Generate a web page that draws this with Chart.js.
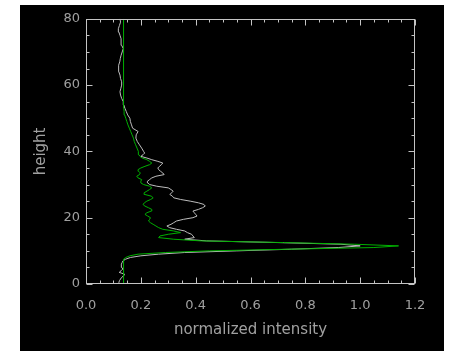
<!DOCTYPE html>
<html>
<head>
<meta charset="utf-8">
<script src="https://cdn.jsdelivr.net/npm/chart.js@4.4.0/dist/chart.umd.min.js"></script>
<style>
  html, body { margin: 0; padding: 0; background: #fff; width: 451px; height: 351px; overflow: hidden; }
  #panel { position: absolute; left: 20px; top: 5px; width: 424px; height: 346px; background: #000; }
</style>
</head>
<body>
<div id="panel"><canvas id="c"></canvas></div>
<script>
// Height samples (shared by both profiles)
const heights = [
  0, 0.5, 1, 1.5, 2, 2.5, 3, 3.5, 4, 4.5, 5, 5.5, 6, 6.5, 7, 7.5, 8, 8.5, 9, 9.5,
  10, 10.5, 11, 11.5, 12, 12.5, 13, 13.5, 14, 14.5, 15, 15.5, 16, 16.5, 17, 17.5, 18, 18.5, 19, 19.5,
  20, 20.5, 21, 21.5, 22, 22.5, 23, 23.5, 24, 24.5, 25, 25.5, 26, 26.5, 27, 27.5, 28, 28.5, 29, 29.5,
  30, 30.5, 31, 31.5, 32, 32.5, 33, 33.5, 34, 34.5, 35, 35.5, 36, 36.5, 37, 37.5, 38, 38.5, 39, 39.5,
  40, 41, 42, 43, 44, 45, 46, 47, 48, 49, 50, 51, 52, 53, 54, 55, 56, 57, 58, 59,
  60, 61, 62, 63, 64, 65, 66, 67, 68, 69, 70, 71, 72, 73, 74, 75, 76, 77, 78, 79, 80
];

// Measured normalized intensity (white)
const observed = [
  0.122, 0.120, 0.122, 0.126, 0.130, 0.138, 0.140, 0.121, 0.128, 0.134, 0.131, 0.128, 0.130, 0.132, 0.135, 0.145, 0.162, 0.200, 0.265, 0.360,
  0.550, 0.750, 0.920, 1.000, 0.930, 0.700, 0.440, 0.360, 0.395, 0.390, 0.385, 0.370, 0.360, 0.330, 0.305, 0.295, 0.310, 0.320, 0.330, 0.355,
  0.390, 0.405, 0.400, 0.395, 0.390, 0.410, 0.425, 0.435, 0.430, 0.410, 0.380, 0.345, 0.320, 0.315, 0.306, 0.312, 0.318, 0.310, 0.300, 0.258,
  0.232, 0.226, 0.224, 0.232, 0.240, 0.255, 0.285, 0.280, 0.272, 0.265, 0.262, 0.268, 0.275, 0.280, 0.262, 0.240, 0.222, 0.200, 0.208, 0.214,
  0.210, 0.203, 0.195, 0.187, 0.182, 0.183, 0.190, 0.170, 0.166, 0.162, 0.160, 0.152, 0.147, 0.142, 0.138, 0.136, 0.130, 0.126, 0.124, 0.127,
  0.130, 0.130, 0.126, 0.124, 0.120, 0.118, 0.120, 0.123, 0.125, 0.128, 0.132, 0.136, 0.130, 0.128, 0.128, 0.124, 0.120, 0.118, 0.122, 0.126, 0.124
];

// Modelled normalized intensity (green)
const modelled = [
  0.137, 0.137, 0.137, 0.137, 0.137, 0.137, 0.137, 0.137, 0.137, 0.137, 0.137, 0.137, 0.137, 0.137, 0.137, 0.138, 0.145, 0.160, 0.190, 0.290,
  0.450, 0.740, 1.050, 1.140, 0.980, 0.720, 0.420, 0.320, 0.265, 0.270, 0.300, 0.345, 0.320, 0.280, 0.265, 0.255, 0.245, 0.235, 0.228, 0.232,
  0.235, 0.225, 0.215, 0.222, 0.238, 0.240, 0.228, 0.215, 0.208, 0.213, 0.222, 0.236, 0.245, 0.238, 0.215, 0.212, 0.222, 0.232, 0.240, 0.232,
  0.210, 0.200, 0.200, 0.203, 0.190, 0.185, 0.195, 0.198, 0.192, 0.190, 0.200, 0.215, 0.232, 0.240, 0.232, 0.222, 0.205, 0.197, 0.193, 0.192,
  0.190, 0.186, 0.181, 0.176, 0.173, 0.168, 0.163, 0.158, 0.153, 0.149, 0.145, 0.141, 0.139, 0.138, 0.137, 0.137, 0.137, 0.137, 0.137, 0.137,
  0.137, 0.137, 0.137, 0.137, 0.137, 0.137, 0.137, 0.137, 0.137, 0.137, 0.137, 0.137, 0.137, 0.137, 0.137, 0.137, 0.137, 0.137, 0.137, 0.137, 0.137
];

const xTicks = [0.0, 0.2, 0.4, 0.6, 0.8, 1.0, 1.2];
const yTicks = [0, 20, 40, 60, 80];

const AXIS_COLOR = '#c4c4c4';
const TEXT_COLOR = '#a0a0a0';

function toPoints(values) {
  return values.map((v, i) => ({ x: v, y: heights[i] }));
}

// Closed box with inward major/minor tick marks on all four sides
const framePlugin = {
  id: 'frame',
  afterDatasetsDraw(chart) {
    const { ctx, chartArea: a, scales: { x, y } } = chart;
    const L = Math.round(a.left) + 0.5, R = Math.round(a.right) - 0.5;
    const T = Math.round(a.top) + 0.5, B = Math.round(a.bottom) - 0.5;
    ctx.save();
    ctx.strokeStyle = AXIS_COLOR;
    ctx.lineWidth = 1;
    ctx.strokeRect(L, T, R - L, B - T);
    ctx.beginPath();
    for (let i = 0; i <= 24; i++) {
      const px = Math.round(x.getPixelForValue(x.min + i * 0.05)) + 0.5;
      const len = i % 4 === 0 ? 6 : 3;
      ctx.moveTo(px, B); ctx.lineTo(px, B - len);
      ctx.moveTo(px, T); ctx.lineTo(px, T + len);
    }
    for (let i = 0; i <= 16; i++) {
      const py = Math.round(y.getPixelForValue(y.min + i * 5)) + 0.5;
      const len = i % 4 === 0 ? 6 : 3;
      ctx.moveTo(L, py); ctx.lineTo(L + len, py);
      ctx.moveTo(R, py); ctx.lineTo(R - len, py);
    }
    ctx.stroke();
    ctx.restore();
  }
};

new Chart(document.getElementById('c'), {
  type: 'scatter',
  data: {
    datasets: [
      {
        label: 'model',
        data: toPoints(modelled),
        showLine: true,
        borderColor: '#00b000',
        borderWidth: 1,
        pointRadius: 0,
        tension: 0,
        order: 0
      },
      {
        label: 'observed',
        data: toPoints(observed),
        showLine: true,
        borderColor: '#bdbdbd',
        borderWidth: 1,
        pointRadius: 0,
        tension: 0,
        order: 1
      }
    ]
  },
  options: {
    responsive: true,
    maintainAspectRatio: false,
    animation: false,
    layout: { padding: { top: 8, right: 29, left: 0, bottom: 0 } },
    plugins: { legend: { display: false }, tooltip: { enabled: false } },
    scales: {
      x: {
        type: 'linear',
        min: 0, max: 1.2,
        afterBuildTicks: s => { s.ticks = xTicks.map(v => ({ value: v })); },
        afterFit: s => { s.height = 67; },
        grid: { display: false, drawTicks: false },
        border: { display: false },
        ticks: {
          color: TEXT_COLOR,
          font: { family: 'DejaVu Sans', size: 13 },
          padding: 14,
          maxRotation: 0,
          autoSkip: false,
          callback: v => Number(v).toFixed(1)
        },
        title: {
          display: true,
          text: 'normalized intensity',
          color: TEXT_COLOR,
          font: { family: 'DejaVu Sans', size: 15 },
          padding: { top: 0, bottom: 12 }
        }
      },
      y: {
        type: 'linear',
        min: 0, max: 80,
        afterBuildTicks: s => { s.ticks = yTicks.map(v => ({ value: v })); },
        afterFit: s => { s.width = 66; },
        grid: { display: false, drawTicks: false },
        border: { display: false },
        ticks: {
          color: TEXT_COLOR,
          font: { family: 'DejaVu Sans', size: 13 },
          padding: 6,
          autoSkip: false
        },
        title: {
          display: true,
          text: 'height',
          color: TEXT_COLOR,
          font: { family: 'DejaVu Sans', size: 15 },
          padding: { top: 12, bottom: 0 }
        }
      }
    }
  },
  plugins: [framePlugin]
});
</script>
</body>
</html>
